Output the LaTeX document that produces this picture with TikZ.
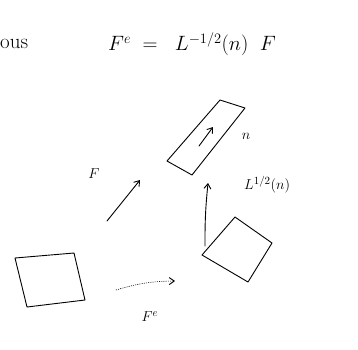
\documentclass[tikz,border=0pt]{standalone}
\usetikzlibrary{arrows.meta}
\begin{document}
\begin{tikzpicture}[x=1pt,y=-1pt,
  ink/.style={line width=0.9pt, line join=round, line cap=round},
  arr/.style={ink, -{Straight Barb[length=5pt,width=7pt]}},
  big/.style={font=\fontsize{21}{25}\selectfont, inner sep=0pt},
  lbl/.style={font=\fontsize{15}{18}\selectfont, inner sep=0pt}]
\useasboundingbox (0,0) rectangle (358,349);
% text
\node[big, anchor=west] (ous) at (0,44) {ous};
\node[big, anchor=west] (eq) at (108,44) {$F^{e}\;=\;\; L^{-1/2}(n)\;\;F$};
% long thin rectangle
\draw[ink] (167,161) -- (192,175) -- (245,108) -- (220,100) -- cycle;
\coordinate (na) at (199,146);
\coordinate (nb) at (213,127);
\draw[arr] (na) -- (nb);
\node[lbl] (n) at (246,136) {$n$};
% L^{1/2}(n) arrow
\coordinate (va) at (205,246);
\coordinate (vb) at (208,183);
\draw[arr] (va) to[bend left=3] (vb);
\node[lbl, anchor=west] (L) at (244,185) {$L^{1/2}(n)$};
% tilted square
\draw[ink] (202,255) -- (235,217) -- (272,243) -- (248,282) -- cycle;
% left square
\draw[ink] (15,258) -- (74,253) -- (85,300) -- (27,307) -- cycle;
% F arrow
\coordinate (fa) at (107,221);
\coordinate (fb) at (140,180);
\draw[arr] (fa) -- (fb);
\node[lbl] (F) at (94,174) {$F$};
% F^e dotted arrow
\coordinate (ea) at (116,290);
\coordinate (eb) at (175,281);
\draw[line width=0.6pt, dash pattern=on 1pt off 1.2pt, -{Straight Barb[length=5pt,width=7pt,line width=0.9pt]}] (ea) to[bend left=8] (eb);
\node[lbl] (Fe) at (150,317) {$F^{e}$};
\end{tikzpicture}
\end{document}
